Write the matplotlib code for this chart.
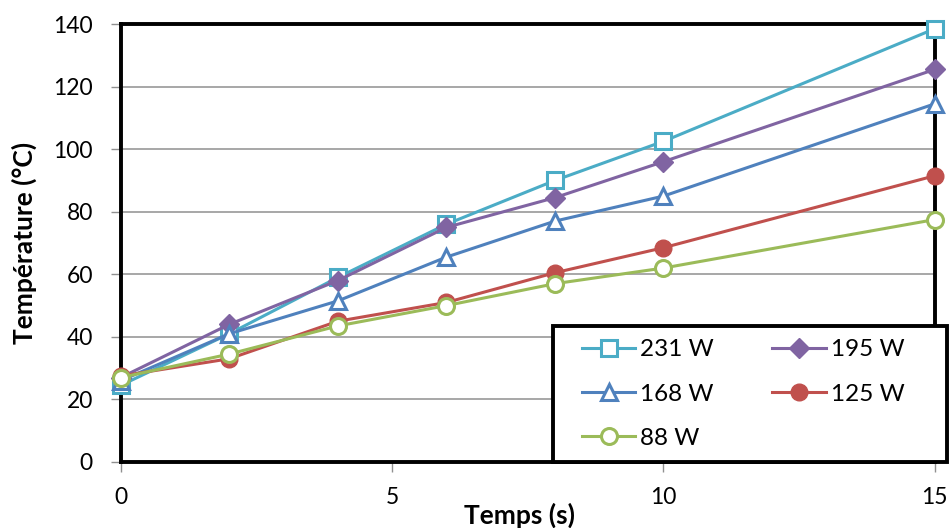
import matplotlib.pyplot as plt
from matplotlib.patches import Rectangle

temps = [0, 2, 4, 6, 8, 10, 15]
t_231 = [24.5, 41, 59, 76, 90, 102.5, 138.5]
t_195 = [27, 44, 58, 75, 84.5, 96, 125.5]
t_168 = [26, 41, 51.5, 65.5, 77, 85, 114.5]
t_125 = [27.5, 33, 45, 51, 60.5, 68.5, 91.5]
t_88 = [27, 34.5, 43.5, 50, 57, 62, 77.5]

plt.rcParams['font.family'] = ['Lato', 'DejaVu Sans']

fig = plt.figure(figsize=(9.51, 5.28), dpi=100)
ax = fig.add_axes([0.127, 0.125, 0.856, 0.8295])

lw = 2.2
mw = 2.2
l231, = ax.plot(temps, t_231, color='#4bacc6', marker='s', mfc='white', mec='#4bacc6', mew=mw, ms=11, lw=lw, clip_on=False, zorder=3)
l195, = ax.plot(temps, t_195, color='#8064a2', marker='D', mfc='#8064a2', mec='#8064a2', ms=10, lw=lw, clip_on=False, zorder=3)
l168, = ax.plot(temps, t_168, color='#4f81bd', marker='^', mfc='white', mec='#4f81bd', mew=mw, ms=12, lw=lw, clip_on=False, zorder=3)
l125, = ax.plot(temps, t_125, color='#c0504d', marker='o', mfc='#c0504d', mec='#c0504d', ms=12, lw=lw, clip_on=False, zorder=3)
l88, = ax.plot(temps, t_88, color='#9bbb59', marker='o', mfc='white', mec='#9bbb59', mew=mw, ms=11.5, lw=lw, clip_on=False, zorder=3)

ax.set_xlim(0, 15)
ax.set_ylim(0, 140)
ax.set_xticks([0, 5, 10, 15])
ax.set_yticks(range(0, 141, 20))
ax.yaxis.grid(True, color='#a0a0a0', lw=1.3)
ax.set_axisbelow(True)
ax.tick_params(axis='both', labelsize=16.5, colors='#909090', labelcolor='black', length=7, width=1)
ax.tick_params(axis='y', pad=13)
ax.tick_params(axis='x', pad=11)
for s in ax.spines.values():
    s.set_color('black')
    s.set_linewidth(2.8)
    s.set_zorder(2.5)

ax.set_xlabel('Temps (s)', fontsize=19, fontweight='bold', va='center')
ax.xaxis.set_label_coords(0.49, -0.121)
ax.set_ylabel('Température (°C)', fontsize=19, fontweight='bold', va='center')
ax.yaxis.set_label_coords(-0.119, 0.5)

# cadre de la légende
cadre = Rectangle((553 / 951, 66 / 528), 394 / 951, 136 / 528, transform=fig.transFigure,
                  facecolor='white', edgecolor='black', lw=2.8, clip_on=False, zorder=4)
ax.add_patch(cadre)

leg = ax.legend([l231, l168, l88, l195, l125], ['231 W', '168 W', '88 W', '195 W', '125 W'],
                ncol=2, loc='center left', bbox_to_anchor=(582 / 951, (528 - 394) / 528),
                bbox_transform=fig.transFigure, fontsize=17.5, frameon=False,
                handlelength=2.2, handletextpad=0.2, columnspacing=2.4,
                labelspacing=0.95, borderpad=0, borderaxespad=0)
leg.set_zorder(5)

fig.savefig('out.png', dpi=100)
